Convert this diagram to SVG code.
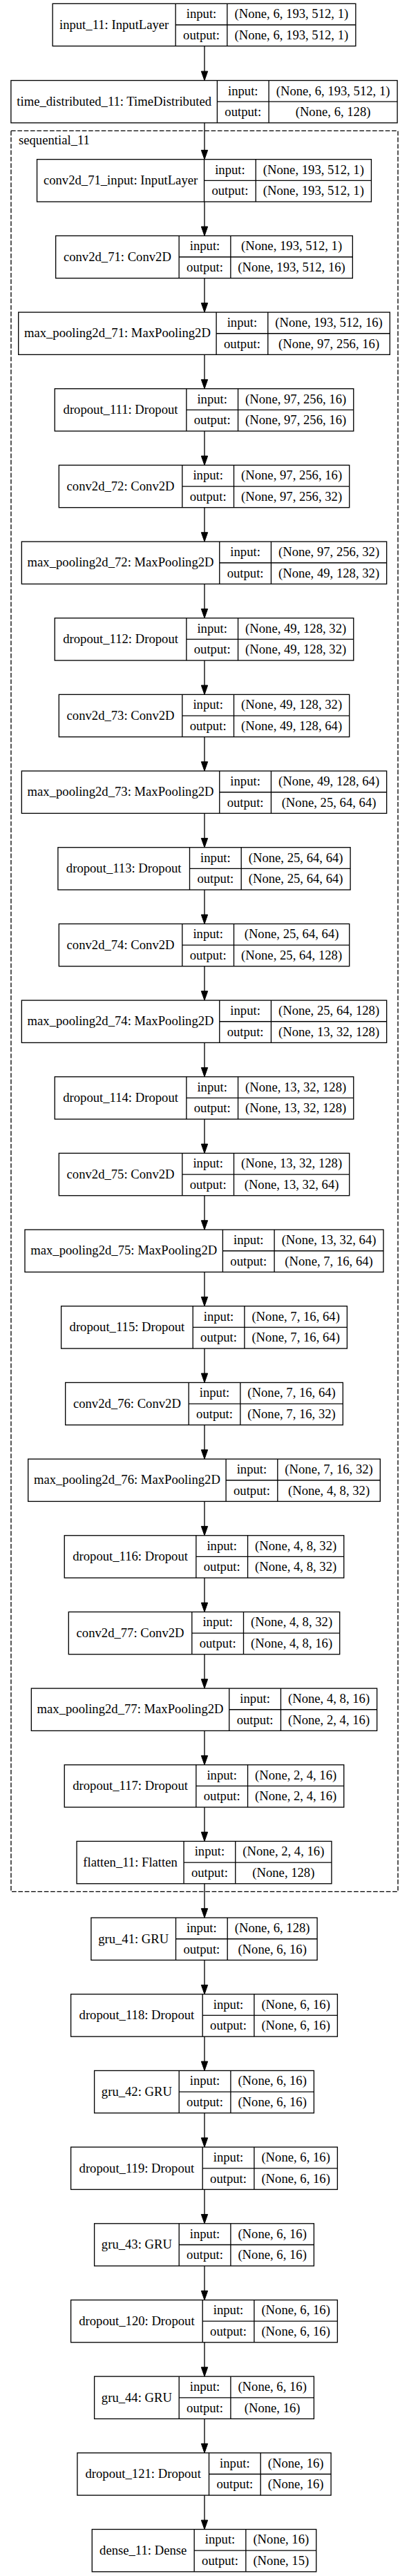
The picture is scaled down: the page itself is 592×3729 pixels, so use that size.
<svg xmlns="http://www.w3.org/2000/svg" width="592" height="3729" viewBox="0 0 592 3729">
<style>
.b{fill:#fff;stroke:#000;stroke-width:1.33}
.d{fill:none;stroke:#000;stroke-width:1.33}
.e{fill:none;stroke:#000;stroke-width:1.33;marker-end:url(#a)}
.c{fill:none;stroke:#000;stroke-width:1.33;stroke-dasharray:6.67,2.67}
text{font-family:"Liberation Serif","Times New Roman",serif;font-size:18.67px;text-anchor:middle;fill:#000}
.l{text-anchor:start}
</style>
<defs>
<marker id="a" markerUnits="userSpaceOnUse" markerWidth="13.33" markerHeight="9.33" refX="13.33" refY="4.67" orient="auto" viewBox="0 0 13.33 9.33" style="overflow:visible"><path d="M0,0L13.33,4.67L0,9.33z" fill="#000" stroke="#000" stroke-width="1"/></marker>
</defs>
<rect width="592" height="3729" fill="#fff"/>
<g id="cluster_sequential_11"><rect class="c" x="16" y="189.3" width="560" height="2549"/><text class="l" x="27" y="209">sequential_11</text></g>
<g id="edges">
<path class="e" d="M296,66.66V116.5"/>
<path class="e" d="M296,177.83V230.7"/>
<path class="e" d="M296,292.03V341.37"/>
<path class="e" d="M296,402.7V452.04"/>
<path class="e" d="M296,513.37V562.71"/>
<path class="e" d="M296,624.04V673.38"/>
<path class="e" d="M296,734.71V784.05"/>
<path class="e" d="M296,845.38V894.72"/>
<path class="e" d="M296,956.05V1005.39"/>
<path class="e" d="M296,1066.72V1116.06"/>
<path class="e" d="M296,1177.39V1226.73"/>
<path class="e" d="M296,1288.06V1337.4"/>
<path class="e" d="M296,1398.73V1448.07"/>
<path class="e" d="M296,1509.4V1558.74"/>
<path class="e" d="M296,1620.07V1669.41"/>
<path class="e" d="M296,1730.74V1780.08"/>
<path class="e" d="M296,1841.41V1890.75"/>
<path class="e" d="M296,1952.08V2001.42"/>
<path class="e" d="M296,2062.75V2112.09"/>
<path class="e" d="M296,2173.42V2222.76"/>
<path class="e" d="M296,2284.09V2333.43"/>
<path class="e" d="M296,2394.76V2444.1"/>
<path class="e" d="M296,2505.43V2554.77"/>
<path class="e" d="M296,2616.1V2665.44"/>
<path class="e" d="M296,2726.77V2776.11"/>
<path class="e" d="M296,2837.44V2886.78"/>
<path class="e" d="M296,2948.11V2997.45"/>
<path class="e" d="M296,3058.78V3108.12"/>
<path class="e" d="M296,3169.45V3218.79"/>
<path class="e" d="M296,3280.12V3329.46"/>
<path class="e" d="M296,3390.79V3440.13"/>
<path class="e" d="M296,3501.46V3550.8"/>
<path class="e" d="M296,3612.13V3661.47"/>
</g>
<g id="input_11" transform="translate(0,5.33)"><rect class="b" x="76.15" y="0" width="438.7" height="61.33"/><path class="d" d="M254.15,0V61.33M328.85,0V61.33M254.15,30.67H514.85"/><text x="165.15" y="36.4">input_11: InputLayer</text><text x="291.5" y="21">input:</text><text x="291.5" y="51.7">output:</text><text x="421.85" y="21">(None, 6, 193, 512, 1)</text><text x="421.85" y="51.7">(None, 6, 193, 512, 1)</text></g>
<g id="time_distributed_11" transform="translate(0,116.5)"><rect class="b" x="15.9" y="0" width="559.2" height="61.33"/><path class="d" d="M314.4,0V61.33M389.1,0V61.33M314.4,30.67H575.1"/><text x="165.15" y="36.4">time_distributed_11: TimeDistributed</text><text x="351.75" y="21">input:</text><text x="351.75" y="51.7">output:</text><text x="482.1" y="21">(None, 6, 193, 512, 1)</text><text x="482.1" y="51.7">(None, 6, 128)</text></g>
<g id="conv2d_71_input" transform="translate(0,230.7)"><rect class="b" x="53.55" y="0" width="483.9" height="61.33"/><path class="d" d="M295.55,0V61.33M370.25,0V61.33M295.55,30.67H537.45"/><text x="174.55" y="36.4">conv2d_71_input: InputLayer</text><text x="332.9" y="21">input:</text><text x="332.9" y="51.7">output:</text><text x="453.85" y="21">(None, 193, 512, 1)</text><text x="453.85" y="51.7">(None, 193, 512, 1)</text></g>
<g id="conv2d_71" transform="translate(0,341.37)"><rect class="b" x="80.65" y="0" width="429.7" height="61.33"/><path class="d" d="M259.15,0V61.33M333.85,0V61.33M259.15,30.67H510.35"/><text x="169.9" y="36.4">conv2d_71: Conv2D</text><text x="296.5" y="21">input:</text><text x="296.5" y="51.7">output:</text><text x="422.1" y="21">(None, 193, 512, 1)</text><text x="422.1" y="51.7">(None, 193, 512, 16)</text></g>
<g id="max_pooling2d_71" transform="translate(0,452.04)"><rect class="b" x="26.7" y="0" width="537.6" height="61.33"/><path class="d" d="M313.1,0V61.33M387.8,0V61.33M313.1,30.67H564.3"/><text x="169.9" y="36.4">max_pooling2d_71: MaxPooling2D</text><text x="350.45" y="21">input:</text><text x="350.45" y="51.7">output:</text><text x="476.05" y="21">(None, 193, 512, 16)</text><text x="476.05" y="51.7">(None, 97, 256, 16)</text></g>
<g id="dropout_111" transform="translate(0,562.71)"><rect class="b" x="79.25" y="0" width="432.5" height="61.33"/><path class="d" d="M269.85,0V61.33M344.55,0V61.33M269.85,30.67H511.75"/><text x="174.55" y="36.4">dropout_111: Dropout</text><text x="307.2" y="21">input:</text><text x="307.2" y="51.7">output:</text><text x="428.15" y="21">(None, 97, 256, 16)</text><text x="428.15" y="51.7">(None, 97, 256, 16)</text></g>
<g id="conv2d_72" transform="translate(0,673.38)"><rect class="b" x="85.3" y="0" width="420.4" height="61.33"/><path class="d" d="M263.8,0V61.33M338.5,0V61.33M263.8,30.67H505.7"/><text x="174.55" y="36.4">conv2d_72: Conv2D</text><text x="301.15" y="21">input:</text><text x="301.15" y="51.7">output:</text><text x="422.1" y="21">(None, 97, 256, 16)</text><text x="422.1" y="51.7">(None, 97, 256, 32)</text></g>
<g id="max_pooling2d_72" transform="translate(0,784.05)"><rect class="b" x="31.35" y="0" width="528.3" height="61.33"/><path class="d" d="M317.75,0V61.33M392.45,0V61.33M317.75,30.67H559.65"/><text x="174.55" y="36.4">max_pooling2d_72: MaxPooling2D</text><text x="355.1" y="21">input:</text><text x="355.1" y="51.7">output:</text><text x="476.05" y="21">(None, 97, 256, 32)</text><text x="476.05" y="51.7">(None, 49, 128, 32)</text></g>
<g id="dropout_112" transform="translate(0,894.72)"><rect class="b" x="79.25" y="0" width="432.5" height="61.33"/><path class="d" d="M269.85,0V61.33M344.55,0V61.33M269.85,30.67H511.75"/><text x="174.55" y="36.4">dropout_112: Dropout</text><text x="307.2" y="21">input:</text><text x="307.2" y="51.7">output:</text><text x="428.15" y="21">(None, 49, 128, 32)</text><text x="428.15" y="51.7">(None, 49, 128, 32)</text></g>
<g id="conv2d_73" transform="translate(0,1005.39)"><rect class="b" x="85.3" y="0" width="420.4" height="61.33"/><path class="d" d="M263.8,0V61.33M338.5,0V61.33M263.8,30.67H505.7"/><text x="174.55" y="36.4">conv2d_73: Conv2D</text><text x="301.15" y="21">input:</text><text x="301.15" y="51.7">output:</text><text x="422.1" y="21">(None, 49, 128, 32)</text><text x="422.1" y="51.7">(None, 49, 128, 64)</text></g>
<g id="max_pooling2d_73" transform="translate(0,1116.06)"><rect class="b" x="31.35" y="0" width="528.3" height="61.33"/><path class="d" d="M317.75,0V61.33M392.45,0V61.33M317.75,30.67H559.65"/><text x="174.55" y="36.4">max_pooling2d_73: MaxPooling2D</text><text x="355.1" y="21">input:</text><text x="355.1" y="51.7">output:</text><text x="476.05" y="21">(None, 49, 128, 64)</text><text x="476.05" y="51.7">(None, 25, 64, 64)</text></g>
<g id="dropout_113" transform="translate(0,1226.73)"><rect class="b" x="83.9" y="0" width="423.2" height="61.33"/><path class="d" d="M274.5,0V61.33M349.2,0V61.33M274.5,30.67H507.1"/><text x="179.2" y="36.4">dropout_113: Dropout</text><text x="311.85" y="21">input:</text><text x="311.85" y="51.7">output:</text><text x="428.15" y="21">(None, 25, 64, 64)</text><text x="428.15" y="51.7">(None, 25, 64, 64)</text></g>
<g id="conv2d_74" transform="translate(0,1337.4)"><rect class="b" x="85.3" y="0" width="420.4" height="61.33"/><path class="d" d="M263.8,0V61.33M338.5,0V61.33M263.8,30.67H505.7"/><text x="174.55" y="36.4">conv2d_74: Conv2D</text><text x="301.15" y="21">input:</text><text x="301.15" y="51.7">output:</text><text x="422.1" y="21">(None, 25, 64, 64)</text><text x="422.1" y="51.7">(None, 25, 64, 128)</text></g>
<g id="max_pooling2d_74" transform="translate(0,1448.07)"><rect class="b" x="31.35" y="0" width="528.3" height="61.33"/><path class="d" d="M317.75,0V61.33M392.45,0V61.33M317.75,30.67H559.65"/><text x="174.55" y="36.4">max_pooling2d_74: MaxPooling2D</text><text x="355.1" y="21">input:</text><text x="355.1" y="51.7">output:</text><text x="476.05" y="21">(None, 25, 64, 128)</text><text x="476.05" y="51.7">(None, 13, 32, 128)</text></g>
<g id="dropout_114" transform="translate(0,1558.74)"><rect class="b" x="79.25" y="0" width="432.5" height="61.33"/><path class="d" d="M269.85,0V61.33M344.55,0V61.33M269.85,30.67H511.75"/><text x="174.55" y="36.4">dropout_114: Dropout</text><text x="307.2" y="21">input:</text><text x="307.2" y="51.7">output:</text><text x="428.15" y="21">(None, 13, 32, 128)</text><text x="428.15" y="51.7">(None, 13, 32, 128)</text></g>
<g id="conv2d_75" transform="translate(0,1669.41)"><rect class="b" x="85.3" y="0" width="420.4" height="61.33"/><path class="d" d="M263.8,0V61.33M338.5,0V61.33M263.8,30.67H505.7"/><text x="174.55" y="36.4">conv2d_75: Conv2D</text><text x="301.15" y="21">input:</text><text x="301.15" y="51.7">output:</text><text x="422.1" y="21">(None, 13, 32, 128)</text><text x="422.1" y="51.7">(None, 13, 32, 64)</text></g>
<g id="max_pooling2d_75" transform="translate(0,1780.08)"><rect class="b" x="36" y="0" width="519" height="61.33"/><path class="d" d="M322.4,0V61.33M397.1,0V61.33M322.4,30.67H555"/><text x="179.2" y="36.4">max_pooling2d_75: MaxPooling2D</text><text x="359.75" y="21">input:</text><text x="359.75" y="51.7">output:</text><text x="476.05" y="21">(None, 13, 32, 64)</text><text x="476.05" y="51.7">(None, 7, 16, 64)</text></g>
<g id="dropout_115" transform="translate(0,1890.75)"><rect class="b" x="88.6" y="0" width="413.8" height="61.33"/><path class="d" d="M279.2,0V61.33M353.9,0V61.33M279.2,30.67H502.4"/><text x="183.9" y="36.4">dropout_115: Dropout</text><text x="316.55" y="21">input:</text><text x="316.55" y="51.7">output:</text><text x="428.15" y="21">(None, 7, 16, 64)</text><text x="428.15" y="51.7">(None, 7, 16, 64)</text></g>
<g id="conv2d_76" transform="translate(0,2001.42)"><rect class="b" x="94.65" y="0" width="401.7" height="61.33"/><path class="d" d="M273.15,0V61.33M347.85,0V61.33M273.15,30.67H496.35"/><text x="183.9" y="36.4">conv2d_76: Conv2D</text><text x="310.5" y="21">input:</text><text x="310.5" y="51.7">output:</text><text x="422.1" y="21">(None, 7, 16, 64)</text><text x="422.1" y="51.7">(None, 7, 16, 32)</text></g>
<g id="max_pooling2d_76" transform="translate(0,2112.09)"><rect class="b" x="40.7" y="0" width="509.6" height="61.33"/><path class="d" d="M327.1,0V61.33M401.8,0V61.33M327.1,30.67H550.3"/><text x="183.9" y="36.4">max_pooling2d_76: MaxPooling2D</text><text x="364.45" y="21">input:</text><text x="364.45" y="51.7">output:</text><text x="476.05" y="21">(None, 7, 16, 32)</text><text x="476.05" y="51.7">(None, 4, 8, 32)</text></g>
<g id="dropout_116" transform="translate(0,2222.76)"><rect class="b" x="93.25" y="0" width="404.5" height="61.33"/><path class="d" d="M283.85,0V61.33M358.55,0V61.33M283.85,30.67H497.75"/><text x="188.55" y="36.4">dropout_116: Dropout</text><text x="321.2" y="21">input:</text><text x="321.2" y="51.7">output:</text><text x="428.15" y="21">(None, 4, 8, 32)</text><text x="428.15" y="51.7">(None, 4, 8, 32)</text></g>
<g id="conv2d_77" transform="translate(0,2333.43)"><rect class="b" x="99.3" y="0" width="392.4" height="61.33"/><path class="d" d="M277.8,0V61.33M352.5,0V61.33M277.8,30.67H491.7"/><text x="188.55" y="36.4">conv2d_77: Conv2D</text><text x="315.15" y="21">input:</text><text x="315.15" y="51.7">output:</text><text x="422.1" y="21">(None, 4, 8, 32)</text><text x="422.1" y="51.7">(None, 4, 8, 16)</text></g>
<g id="max_pooling2d_77" transform="translate(0,2444.1)"><rect class="b" x="45.35" y="0" width="500.3" height="61.33"/><path class="d" d="M331.75,0V61.33M406.45,0V61.33M331.75,30.67H545.65"/><text x="188.55" y="36.4">max_pooling2d_77: MaxPooling2D</text><text x="369.1" y="21">input:</text><text x="369.1" y="51.7">output:</text><text x="476.05" y="21">(None, 4, 8, 16)</text><text x="476.05" y="51.7">(None, 2, 4, 16)</text></g>
<g id="dropout_117" transform="translate(0,2554.77)"><rect class="b" x="93.25" y="0" width="404.5" height="61.33"/><path class="d" d="M283.85,0V61.33M358.55,0V61.33M283.85,30.67H497.75"/><text x="188.55" y="36.4">dropout_117: Dropout</text><text x="321.2" y="21">input:</text><text x="321.2" y="51.7">output:</text><text x="428.15" y="21">(None, 2, 4, 16)</text><text x="428.15" y="51.7">(None, 2, 4, 16)</text></g>
<g id="flatten_11" transform="translate(0,2665.44)"><rect class="b" x="111.05" y="0" width="368.9" height="61.33"/><path class="d" d="M266.05,0V61.33M340.75,0V61.33M266.05,30.67H479.95"/><text x="188.55" y="36.4">flatten_11: Flatten</text><text x="303.4" y="21">input:</text><text x="303.4" y="51.7">output:</text><text x="410.35" y="21">(None, 2, 4, 16)</text><text x="410.35" y="51.7">(None, 128)</text></g>
<g id="gru_41" transform="translate(0,2776.11)"><rect class="b" x="131.9" y="0" width="327.2" height="61.33"/><path class="d" d="M254.5,0V61.33M329.2,0V61.33M254.5,30.67H459.1"/><text x="193.2" y="36.4">gru_41: GRU</text><text x="291.85" y="21">input:</text><text x="291.85" y="51.7">output:</text><text x="394.15" y="21">(None, 6, 128)</text><text x="394.15" y="51.7">(None, 6, 16)</text></g>
<g id="dropout_118" transform="translate(0,2886.78)"><rect class="b" x="102.6" y="0" width="385.8" height="61.33"/><path class="d" d="M293.2,0V61.33M367.9,0V61.33M293.2,30.67H488.4"/><text x="197.9" y="36.4">dropout_118: Dropout</text><text x="330.55" y="21">input:</text><text x="330.55" y="51.7">output:</text><text x="428.15" y="21">(None, 6, 16)</text><text x="428.15" y="51.7">(None, 6, 16)</text></g>
<g id="gru_42" transform="translate(0,2997.45)"><rect class="b" x="136.6" y="0" width="317.8" height="61.33"/><path class="d" d="M259.2,0V61.33M333.9,0V61.33M259.2,30.67H454.4"/><text x="197.9" y="36.4">gru_42: GRU</text><text x="296.55" y="21">input:</text><text x="296.55" y="51.7">output:</text><text x="394.15" y="21">(None, 6, 16)</text><text x="394.15" y="51.7">(None, 6, 16)</text></g>
<g id="dropout_119" transform="translate(0,3108.12)"><rect class="b" x="102.6" y="0" width="385.8" height="61.33"/><path class="d" d="M293.2,0V61.33M367.9,0V61.33M293.2,30.67H488.4"/><text x="197.9" y="36.4">dropout_119: Dropout</text><text x="330.55" y="21">input:</text><text x="330.55" y="51.7">output:</text><text x="428.15" y="21">(None, 6, 16)</text><text x="428.15" y="51.7">(None, 6, 16)</text></g>
<g id="gru_43" transform="translate(0,3218.79)"><rect class="b" x="136.6" y="0" width="317.8" height="61.33"/><path class="d" d="M259.2,0V61.33M333.9,0V61.33M259.2,30.67H454.4"/><text x="197.9" y="36.4">gru_43: GRU</text><text x="296.55" y="21">input:</text><text x="296.55" y="51.7">output:</text><text x="394.15" y="21">(None, 6, 16)</text><text x="394.15" y="51.7">(None, 6, 16)</text></g>
<g id="dropout_120" transform="translate(0,3329.46)"><rect class="b" x="102.6" y="0" width="385.8" height="61.33"/><path class="d" d="M293.2,0V61.33M367.9,0V61.33M293.2,30.67H488.4"/><text x="197.9" y="36.4">dropout_120: Dropout</text><text x="330.55" y="21">input:</text><text x="330.55" y="51.7">output:</text><text x="428.15" y="21">(None, 6, 16)</text><text x="428.15" y="51.7">(None, 6, 16)</text></g>
<g id="gru_44" transform="translate(0,3440.13)"><rect class="b" x="136.6" y="0" width="317.8" height="61.33"/><path class="d" d="M259.2,0V61.33M333.9,0V61.33M259.2,30.67H454.4"/><text x="197.9" y="36.4">gru_44: GRU</text><text x="296.55" y="21">input:</text><text x="296.55" y="51.7">output:</text><text x="394.15" y="21">(None, 6, 16)</text><text x="394.15" y="51.7">(None, 16)</text></g>
<g id="dropout_121" transform="translate(0,3550.8)"><rect class="b" x="111.9" y="0" width="367.2" height="61.33"/><path class="d" d="M302.5,0V61.33M377.2,0V61.33M302.5,30.67H479.1"/><text x="207.2" y="36.4">dropout_121: Dropout</text><text x="339.85" y="21">input:</text><text x="339.85" y="51.7">output:</text><text x="428.15" y="21">(None, 16)</text><text x="428.15" y="51.7">(None, 16)</text></g>
<g id="dense_11" transform="translate(0,3661.47)"><rect class="b" x="133.25" y="0" width="324.5" height="61.33"/><path class="d" d="M281.15,0V61.33M355.85,0V61.33M281.15,30.67H457.75"/><text x="207.2" y="36.4">dense_11: Dense</text><text x="318.5" y="21">input:</text><text x="318.5" y="51.7">output:</text><text x="406.8" y="21">(None, 16)</text><text x="406.8" y="51.7">(None, 15)</text></g>
</svg>
